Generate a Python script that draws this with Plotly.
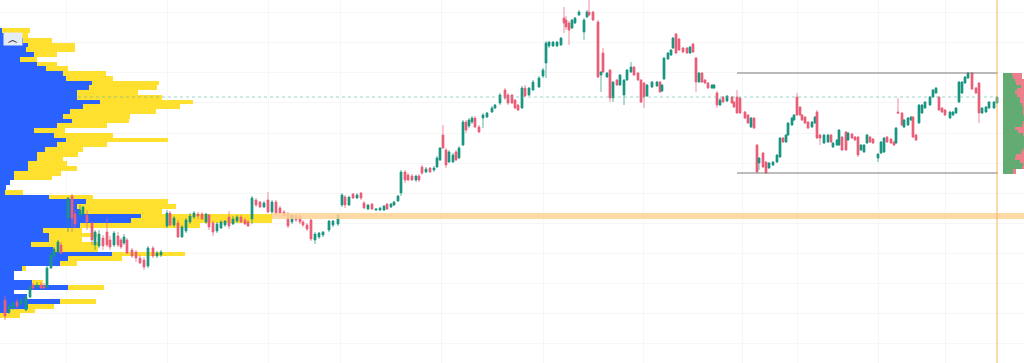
import plotly.graph_objects as go

# ---- candles (x = session position, levels measured downward from the top of the scale)
bar_x = [5,9,13,17,21,26,30,33,37,41,44,47,51,54,58,61,68,72,75,80,83,87,92,95,99,103,107,110,114,118,
121,124,127,132,136,140,144,148,153,157,161,167,170,174,178,182,186,190,194,198,202,206,209,213,217,221,225,229,233,237,
241,245,248,252,256,260,264,268,272,276,280,284,288,292,296,300,303,307,311,315,319,323,329,333,338,342,345,349,353,357,
361,364,368,372,376,380,384,387,391,394,398,401,405,408,412,416,419,422,426,430,434,437,440,443,446,449,453,456,459,463,
466,469,472,475,479,483,487,492,495,500,505,508,512,515,518,522,525,529,533,539,543,546,549,553,557,561,564,566,569,572,
575,579,584,587,589,593,598,601,603,607,610,613,617,620,624,627,631,634,638,641,644,647,652,657,660,662,664,668,671,673,
676,679,683,687,690,693,696,699,702,705,708,712,714,717,720,723,727,732,734,737,740,745,748,751,754,757,759,763,766,769,
773,777,780,783,786,788,792,794,797,800,802,805,808,812,815,817,820,824,828,831,833,837,839,842,846,848,852,855,858,861,
864,867,870,873,878,881,884,887,891,894,896,898,902,904,908,911,913,916,919,922,925,930,933,936,939,942,945,950,953,956,
959,962,965,968,972,976,979,982,986,989,994,997]
direction = ("RGGRGGGRGRRGGGGRGRRGGRRGGRRRGR"
"RGRRRRRGRGGGRGRGGGGRRGRRGGGRGG"
"RRRGRRGRGRRRRGRRRRRGGGGGGGRGRG"
"RRGRGGGRGGGGRRRGRRGRGGGRRGGRGG"
"RGGRRGGGGGRRRRRGRGGGGGGGGGRRRG"
"GGGGRRRGRGRGRGGGGRRRRGGGRGGGGG"
"RRRRGRRGRRRGGRGRGRRRRRRGRRGRRG"
"GGGRGGGGRRRRRGGRRGGRGGGRRGRRRG"
"GGRRGGGRRRGRRGGGRRGGGGGGRRRGGG"
"GGGGRRRGGGGG")
body_top = [300,306,303,302,300,297,287,285,285,285,286,268,255,249,242,245,198,196,214,210,207,215,223,232,234,238,232,240,233,236,
240,237,240,250,252,258,260,248,248,253,252,213,213,218,223,227,220,216,213,214,214,214,215,223,224,222,221,217,219,217,
217,220,222,198,200,202,203,200,202,202,208,212,214,215,215,216,222,225,220,234,233,232,221,221,215,195,197,197,194,195,
193,203,205,204,209,208,206,204,204,202,196,172,172,175,176,176,176,167,169,168,168,158,148,135,150,152,155,152,148,122,
122,120,118,118,127,115,113,108,105,95,90,95,95,100,105,88,88,88,82,78,70,43,42,42,42,38,18,20,23,20,
18,12,20,12,12,12,22,72,53,73,70,82,80,75,80,70,67,67,73,80,83,85,82,82,82,85,58,53,50,38,
34,39,48,48,47,44,58,73,73,80,83,85,85,93,100,97,96,97,102,97,98,112,115,118,118,145,158,153,162,163,
162,155,138,138,135,123,118,115,97,107,115,117,122,122,117,112,135,135,135,135,143,140,130,137,132,133,134,137,137,145,
145,135,137,139,154,142,138,137,139,142,128,112,113,120,118,117,117,135,105,105,102,97,90,88,97,108,110,112,112,108,
82,82,77,73,73,88,83,108,107,102,102,97]
body_bot = [316,312,308,306,304,310,297,288,287,288,288,287,268,256,252,253,218,218,224,215,214,222,240,245,246,246,245,247,245,245,
247,243,253,256,258,263,267,266,256,256,255,226,225,225,237,237,231,222,217,216,219,222,227,232,231,228,225,226,224,221,
222,224,226,219,205,207,207,212,212,213,213,216,226,222,220,222,225,229,239,240,237,235,230,225,224,205,205,205,198,198,
198,208,209,209,210,210,210,209,207,205,201,193,180,180,180,180,180,173,172,172,170,167,160,148,165,162,162,160,158,145,
130,126,122,127,132,118,117,112,108,103,98,103,103,108,110,108,96,95,90,87,76,63,46,46,46,45,23,27,30,28,
23,15,32,17,15,20,77,75,72,77,98,98,85,85,95,80,72,75,80,102,97,96,87,86,92,91,79,59,55,48,
53,50,52,53,53,52,82,82,82,83,88,88,88,105,105,102,101,103,107,113,113,118,123,127,128,172,163,167,173,168,
165,162,157,142,142,135,125,120,115,115,120,123,128,127,123,138,138,143,142,142,147,145,145,150,150,140,138,140,155,150,
152,143,142,143,158,153,152,142,143,145,143,113,125,127,125,120,137,140,123,113,108,105,97,93,110,112,115,118,115,113,
102,93,83,78,89,93,113,113,112,108,108,103]
wick_top = [296,304,301,299,298,295,285,283,282,282,283,266,252,247,240,242,197,194,210,205,206,210,222,230,230,235,218,236,231,232,
238,234,238,248,250,255,257,246,246,251,250,210,211,216,220,225,218,213,211,212,212,213,214,221,222,220,220,211,216,215,
215,218,220,196,198,201,201,192,200,200,206,210,212,214,214,214,220,223,219,232,232,231,220,220,214,193,195,196,193,193,
192,201,204,203,208,207,205,203,203,201,195,170,170,173,174,175,174,165,167,167,166,156,147,125,148,150,153,150,146,120,
120,118,116,116,125,113,112,106,104,93,88,93,94,99,104,86,85,87,80,76,68,41,41,41,41,37,7,16,21,19,
17,10,18,10,0,11,20,71,48,72,69,81,79,74,79,69,62,66,72,79,82,84,81,81,81,84,57,52,49,37,
33,38,47,47,46,43,57,72,72,79,82,84,84,91,98,96,95,96,101,90,97,111,114,117,117,144,157,152,161,162,
161,154,137,137,134,122,117,114,93,106,114,116,121,121,116,110,134,134,134,134,142,139,129,136,131,132,133,136,136,144,
144,134,136,138,153,141,137,136,138,141,127,98,112,119,117,116,116,134,104,104,101,96,89,87,96,107,109,111,111,107,
81,81,76,72,72,87,82,107,106,101,101,96]
wick_bot = [320,314,310,310,306,311,298,290,289,289,289,288,269,258,254,254,232,232,228,218,216,230,245,250,248,250,247,250,247,247,
249,245,254,258,262,264,270,268,258,258,257,228,226,227,238,238,233,224,219,219,220,224,230,236,233,229,227,229,225,223,
223,225,227,224,207,208,208,213,214,215,215,217,228,224,222,224,227,231,241,244,239,237,232,227,226,207,208,206,199,199,
200,209,210,210,211,211,211,210,208,206,202,196,183,181,181,182,182,175,173,173,172,168,161,149,168,163,163,161,159,146,
133,128,124,128,133,128,118,113,109,105,100,105,104,109,111,109,97,96,91,88,78,78,48,47,47,46,33,30,45,29,
24,16,40,18,16,21,78,92,73,78,102,102,86,86,105,81,73,76,81,103,108,97,88,87,93,92,80,60,56,49,
54,51,53,54,54,53,92,83,83,84,89,89,89,108,106,103,102,104,108,114,114,119,124,128,129,173,170,168,174,169,
166,163,158,143,143,136,126,121,116,116,121,124,129,128,124,139,145,144,143,143,148,146,146,151,151,141,139,141,157,151,
153,144,143,144,162,154,153,143,144,146,144,114,126,128,126,121,138,141,124,114,109,106,98,94,111,113,116,119,116,114,
103,94,84,79,90,94,123,114,113,109,109,104]

# ---- left volume profile
profile_level = [30.7,35.4,40.2,45.0,49.7,54.5,59.2,64.0,68.7,73.5,78.2,83.0,87.7,92.5,97.2,102.0,106.7,111.5,116.2,121.0,
125.7,130.5,135.2,140.0,144.7,149.5,154.2,159.0,163.7,168.5,173.2,178.0,182.7,187.5,192.2,197.0,201.7,206.5,211.2,216.0,
220.7,225.5,230.2,235.0,239.7,244.5,249.2,254.0,258.7,263.5,268.2,273.0,277.7,282.5,287.2,292.0,296.7,301.5,306.2,311.0,315.7]
profile_blue = [2,20,23,28,26,34,20,37,46,63,66,92,89,77,77,100,83,70,63,72,57,34,54,66,57,45,37,37,28,28,14,14,
10,6,5,49,86,77,80,141,131,80,43,49,49,31,53,112,68,60,22,14,14,32,68,14,27,60,28,10,0]
profile_total = [30,28,52,75,75,57,37,57,68,106,113,159,157,138,162,193,180,156,130,129,107,65,113,168,107,83,78,63,67,77,61,52,
10,6,23,93,168,176,162,272,272,200,82,97,82,98,98,185,122,77,26,14,14,43,104,14,27,96,54,35,20]

# ---- right session profile
session_level = [74,77,80,83,86,89,92,95,98,101,104,107,110,113,116,119,122,125,128,131,134,137,140,143,146,149,152,155,158,161,164,167,170,172]
session_up = [9,10,12,13,18,14,12,14,17,17,19,20,20,20,21,21,20,19,12,15,20,21,21,21,21,20,18,13,12,17,20,19,10,10]
session_total = [19,19,22,22,22,22,22,22,22,22,22,22,22,22,22,22,22,22,22,22,22,22,22,22,22,22,22,22,22,22,22,22,13,13]

# ---- levels
support_level = 216
support_span = [272, 1024]
value_level = 97
value_span = [78, 997]
range_top = 73
range_bottom = 173
range_span = [737, 998]
now_x = 997
grid_x = [66,167,268,340,441,543,643,742,797,878,945]
grid_y = [12,42,72,102,133,163,193,223,253,283,313,343]

n = len(bar_x)
sizes = [len(direction), len(body_top), len(body_bot), len(wick_top), len(wick_bot)]
assert all(s == n for s in sizes), (n, sizes)
assert len(profile_level) == len(profile_blue) == len(profile_total), (len(profile_level), len(profile_blue), len(profile_total))

opens = [b if d == "G" else t for t, b, d in zip(body_top, body_bot, direction)]
closes = [t if d == "G" else b for t, b, d in zip(body_top, body_bot, direction)]

fig = go.Figure()
fig.add_bar(y=profile_level, x=profile_total, orientation="h", width=4.8, marker=dict(color="#ffe02e", line_width=0), xaxis="x", yaxis="y")
fig.add_bar(y=profile_level, x=profile_blue, orientation="h", width=4.8, marker=dict(color="#2962ff", line_width=0), xaxis="x", yaxis="y")
fig.add_bar(y=session_level, x=session_total, orientation="h", width=3, marker=dict(color="#ec7f8c", line_width=0), xaxis="x2", yaxis="y")
fig.add_bar(y=session_level, x=session_up, orientation="h", width=3, marker=dict(color="#62ab72", line_width=0), xaxis="x2", yaxis="y")
fig.add_candlestick(x=bar_x, open=opens, close=closes, high=wick_bot, low=wick_top, whiskerwidth=0,
    increasing=dict(line=dict(color="#ea5f78", width=0.7), fillcolor="#ea5f78"),
    decreasing=dict(line=dict(color="#1b9683", width=0.7), fillcolor="#1b9683"), xaxis="x", yaxis="y")
fig.add_scatter(x=support_span, y=[support_level]*2, mode="lines", line=dict(color="rgba(253,210,150,0.85)", width=6), xaxis="x", yaxis="y")
fig.add_scatter(x=value_span, y=[value_level]*2, mode="lines", line=dict(color="rgba(90,185,165,0.6)", width=1, dash="dot"), xaxis="x", yaxis="y")
fig.add_scatter(x=range_span, y=[range_top]*2, mode="lines", line=dict(color="#7a7a7a", width=1), xaxis="x", yaxis="y")
fig.add_scatter(x=range_span, y=[range_bottom]*2, mode="lines", line=dict(color="#7a7a7a", width=1), xaxis="x", yaxis="y")
fig.add_scatter(x=[now_x]*2, y=[0, 363], mode="lines", line=dict(color="#f3b561", width=1), xaxis="x", yaxis="y")

fig.update_layout(
    width=1024, height=363, margin=dict(l=0, r=0, t=0, b=0), showlegend=False,
    paper_bgcolor="white", plot_bgcolor="rgba(0,0,0,0)", barmode="overlay", bargap=0, boxgap=0, boxgroupgap=0,
    xaxis=dict(range=[0, 1024], domain=[0, 1], tickvals=grid_x, showticklabels=False, ticks="", gridcolor="#f6f6f6", zeroline=False, rangeslider=dict(visible=False), showline=False),
    xaxis2=dict(range=[0, 22], domain=[1002.5/1024, 1], showgrid=False, showticklabels=False, ticks="", zeroline=False, anchor="y"),
    yaxis=dict(range=[363, 0], domain=[0, 1], tickvals=grid_y, showticklabels=False, ticks="", gridcolor="#f6f6f6", zeroline=False, showline=False),
    annotations=[dict(xref="x", yref="y", x=12.5, y=38.5, text="<b>︿</b>", showarrow=False, font=dict(size=10, color="#444", family="DejaVu Sans"),
                      bgcolor="#e6ecf7", width=18, height=12, borderpad=0)],
)
fig.write_html("out.html", config=dict(displayModeBar=False), post_script="document.body.style.margin='0';")
